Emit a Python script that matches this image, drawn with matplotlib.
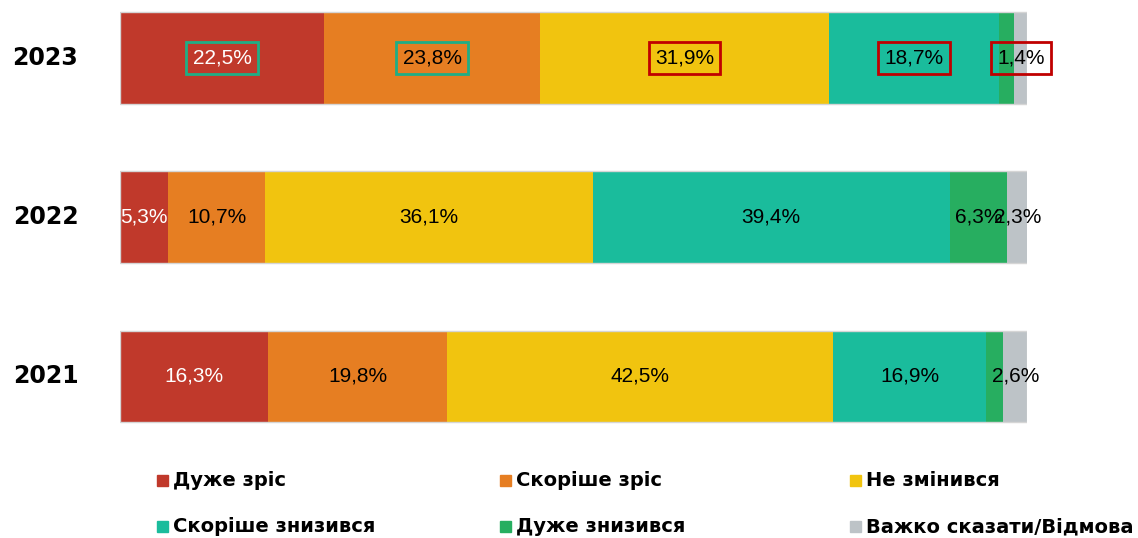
import numpy as np
from matplotlib import pyplot as plt
from matplotlib.patches import Rectangle

years = ['2023', '2022', '2021']
categories = ['Дуже зріс', 'Скоріше зріс', 'Не змінився',
              'Скоріше знизився', 'Дуже знизився', 'Важко сказати/Відмова']
strong_up = [22.5, 5.3, 16.3]
rather_up = [23.8, 10.7, 19.8]
no_change = [31.9, 36.1, 42.5]
rather_down = [18.7, 39.4, 16.9]
strong_down = [1.7, 6.3, 1.9]
hard_to_say = [1.4, 2.3, 2.6]

# which segments get a label (the small dark green ones in 2023 / 2021 don't)
show_label = [
    [True, True, True, True, False, True],
    [True, True, True, True, True, True],
    [True, True, True, True, False, True],
]
# boxes drawn round the 2023 labels
box_colors = ['#1FAE85', '#1FAE85', '#C00000', '#C00000', None, '#C00000']

colors = ['#C0392B', '#E67E22', '#F1C40F', '#1ABC9C', '#27AE60', '#BDC3C7']
text_colors = ['white', 'black', 'black', 'black', 'black', 'black']

series = [strong_up, rather_up, no_change, rather_down, strong_down, hard_to_say]

W, H = 1138, 538
fig = plt.figure(figsize=(W / 100, H / 100), dpi=100)
ax = fig.add_axes([120 / W, 1 - 440 / H, 907 / W, 440 / H])

y = np.arange(len(years))
left = np.zeros(len(years))
bar_h = 0.575
for k, vals in enumerate(series):
    vals = np.array(vals)
    ax.barh(y, vals, left=left, height=bar_h, color=colors[k], linewidth=0)
    for i in range(len(years)):
        if not show_label[i][k]:
            continue
        txt = f'{vals[i]:.1f}%'.replace('.', ',')
        kw = {}
        if i == 0 and box_colors[k] is not None:
            kw['bbox'] = dict(boxstyle='square,pad=0.3', fc='none',
                              ec=box_colors[k], lw=2)
        ax.text(left[i] + vals[i] / 2, y[i], txt, ha='center', va='center',
                fontsize=15, family='Liberation Sans', color=text_colors[k],
                **kw)
    left = left + vals

# thin light outline of each whole bar
ax.barh(y, left, height=bar_h, facecolor='none', edgecolor='#D5D5D5',
        linewidth=1)

ax.set_xlim(0, 100)
ax.set_ylim(2.40, -0.365)
ax.axis('off')

for i, yr in enumerate(years):
    ax.text(-0.046, y[i], yr, transform=ax.get_yaxis_transform(),
            ha='right', va='center', fontsize=17, fontweight='bold',
            family='DejaVu Sans')

# legend, three columns on two rows
col_x = [157, 500, 850]
row_y = [481, 527]
for k, name in enumerate(categories):
    cx = col_x[k % 3]
    cy = row_y[k // 3]
    fig.add_artist(Rectangle((cx / W, 1 - (cy + 5) / H), 11 / W, 11 / H,
                             transform=fig.transFigure, color=colors[k]))
    fig.text((cx + 16) / W, 1 - cy / H, name, ha='left', va='center',
             fontsize=14, fontweight='bold', family='DejaVu Sans')

plt.savefig('out.png', dpi=100)
